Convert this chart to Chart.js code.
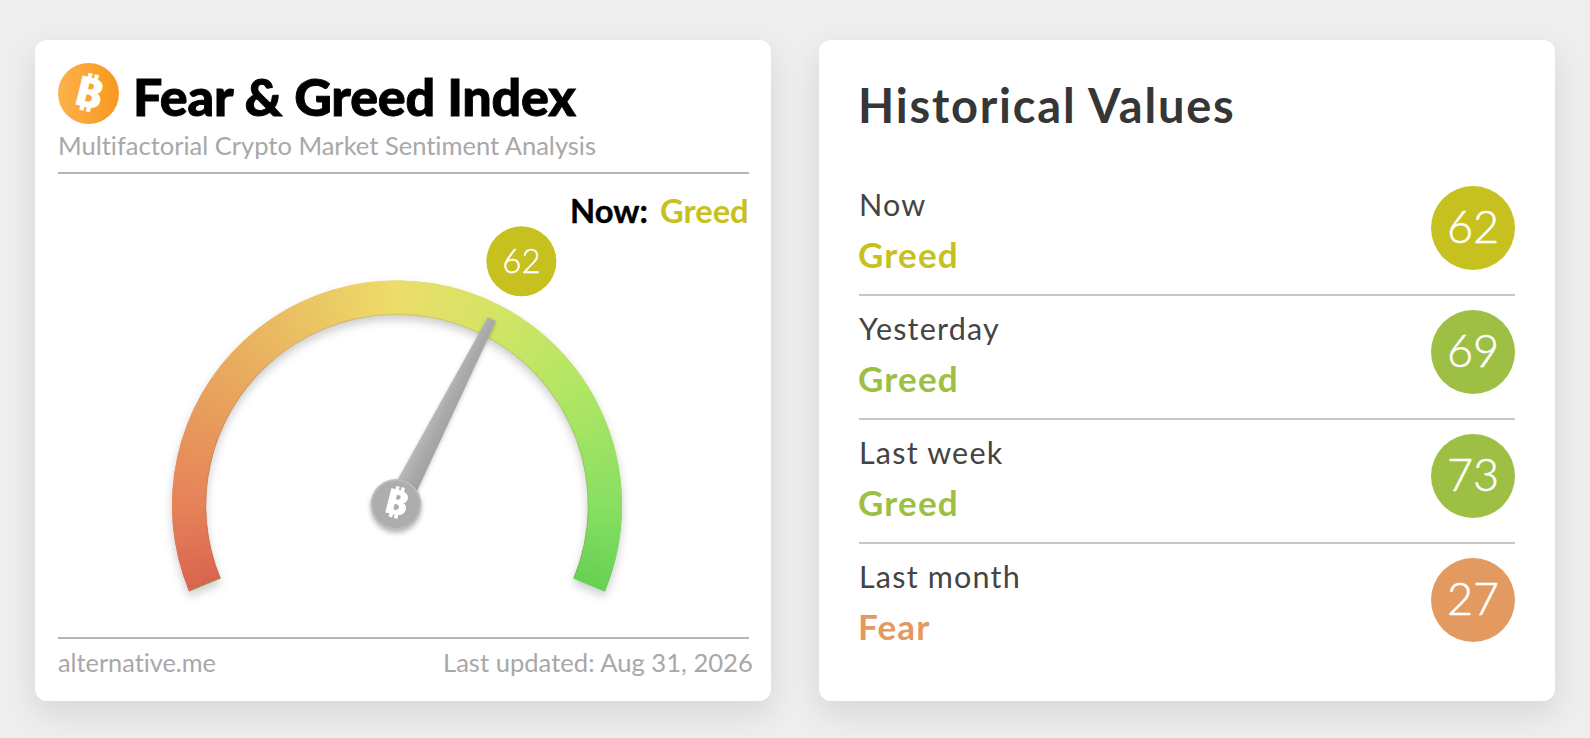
<!DOCTYPE html>
<html>
<head>
<meta charset="utf-8">
<title>Fear &amp; Greed Index</title>
<script src="https://cdn.jsdelivr.net/npm/chart.js@4/dist/chart.umd.min.js"></script>
<style>
  html, body { margin: 0; height: 100%; background: #eeeeee; overflow: hidden; }
  body { position: relative; width: 1590px; height: 738px; font-family: Lato, sans-serif; }
  .card { position: absolute; top: 40px; height: 661px; background: #fff; border-radius: 12px; box-shadow: 0 12px 32px rgba(0,0,0,.10); }
  #left { left: 35px; width: 736px; }
  #right { left: 819px; width: 736px; }
  .t { position: absolute; white-space: nowrap; line-height: 1; font-variant-ligatures: none; }
  .rule { position: absolute; height: 2px; }
  #logo { position: absolute; left: 58px; top: 63px; width: 61px; height: 61px; border-radius: 50%;
          background: linear-gradient(90deg, #fdb14d, #f8981f); color: #fff; text-align: center;
          font: bold 41px/61px "DejaVu Sans", "Noto Sans"; -webkit-text-stroke: .6px #fff; }
  #logo span { display: inline-block; transform: rotate(14deg) scaleX(1.2); }
  .badge { position: absolute; left: 1431px; width: 84px; height: 84px; border-radius: 50%; color: #fff;
           text-align: center; font: 300 45px/80px Lato, sans-serif; -webkit-text-stroke: .5px #fff; }
  #gauge { position: absolute; left: 97px; top: 200px; width: 600px; height: 440px; }
</style>
</head>
<body>
<div class="card" id="left"></div>
<div class="card" id="right"></div>

<div id="logo"><span>&#8383;</span></div>
<div class="t" style="left:133px;top:70px;font-size:52px;font-weight:900;color:#000;-webkit-text-stroke:.9px #000;letter-spacing:-.2px">Fear &amp; Greed Index</div>
<div class="t" style="left:58px;top:133px;font-size:25.5px;color:#a8a8a8">Multifactorial Crypto Market Sentiment Analysis</div>
<div class="rule" style="left:58px;top:172px;width:691px;background:#b5b5b5"></div>
<div class="t" style="left:570px;top:195px;font-size:32.7px;font-weight:700;color:#000;-webkit-text-stroke:.4px #000">Now:</div>
<div class="t" id="nowClass" style="left:660px;top:195px;font-size:32.7px;font-weight:700"></div>
<div class="rule" style="left:58px;top:637px;width:691px;background:#b5b5b5"></div>
<div class="t" style="left:58px;top:650px;font-size:25.3px;color:#a8a8a8">alternative.me</div>
<div class="t" style="left:443px;top:650px;font-size:25.6px;color:#a8a8a8">Last updated: Aug 31, 2026</div>

<div class="t" style="left:858px;top:82px;font-size:47px;font-weight:700;color:#363636;letter-spacing:1.8px">Historical Values</div>
<div id="rows"></div>

<div id="gauge"><canvas id="gaugeChart"></canvas></div>

<script>
// values
const periods = ['Now', 'Yesterday', 'Last week', 'Last month'];
const periodValues = [62, 69, 73, 27];
const periodClasses = ['Greed', 'Greed', 'Greed', 'Fear'];
const periodColors = ['#c7c120', '#9dc044', '#9dc044', '#e39a60'];

const gaugeMax = 100;
const gaugeStops = [0, 0.1, 0.3, 0.5, 0.62, 0.75, 0.9, 1];
const gaugeColors = ['#d9644f', '#e68259', '#e9b05f', '#ecdd69', '#d4e465', '#b2e664', '#88df62', '#66d154'];

const gaugeRotation = -112.5;
const gaugeSweep = 225;

// Right hand list
const rowsEl = document.getElementById('rows');
periods.forEach(function(label, i) {
    const y = 124 * i;
    rowsEl.insertAdjacentHTML('beforeend', `
        <div class="t" style="left:859px;top:${189 + y}px;font-size:30.5px;color:#444;letter-spacing:1.2px">${label}</div>
        <div class="t" style="left:858px;top:${237 + y}px;font-size:35px;font-weight:700;color:${periodColors[i]};letter-spacing:1.2px">${periodClasses[i]}</div>
        <div class="badge" style="top:${186 + y}px;background:${periodColors[i]}">${periodValues[i]}</div>
        ${i < periods.length - 1 ? `<div class="rule" style="left:859px;top:${294 + y}px;width:656px;background:#c8c8c8"></div>` : ''}
    `);
});
document.getElementById('nowClass').textContent = periodClasses[0];
document.getElementById('nowClass').style.color = periodColors[0];

// Conic gradient follows the ring from the red end to the green end
function gaugeGradient(context) {
    const chart = context.chart;
    const area = chart.chartArea;
    if (!area) return gaugeColors[0];
    const cx = (area.left + area.right) / 2;
    const cy = area.top + (area.right - area.left) / 2;
    const start = (gaugeRotation - 90) * Math.PI / 180;
    const grad = chart.ctx.createConicGradient(start, cx, cy);
    gaugeStops.forEach(function(s, i) {
        grad.addColorStop(s * gaugeSweep / 360, gaugeColors[i]);
    });
    return grad;
}

// Soft shadow under the ring, drawn once before the real slices
const ringShadow = {
    id: 'ringShadow',
    beforeDatasetsDraw(chart) {
        const ctx = chart.ctx;
        ctx.save();
        ctx.shadowColor = 'rgba(0,0,0,.20)';
        ctx.shadowBlur = 10;
        ctx.shadowOffsetY = 5;
        chart.getDatasetMeta(0).data.forEach(el => el.draw(ctx));
        ctx.restore();
    }
};

// Needle, hub and value bubble sit on the angle of the first slice
const needle = {
    id: 'needle',
    afterDatasetsDraw(chart) {
        const ctx = chart.ctx;
        const el = chart.getDatasetMeta(0).data[0];
        const last = chart.getDatasetMeta(0).data[1];
        const cx = el.x, cy = el.y, a = el.endAngle;

        // inner edge of the ring
        ctx.save();
        ctx.strokeStyle = 'rgba(90,70,20,.14)';
        ctx.lineWidth = 1.2;
        ctx.beginPath();
        ctx.arc(cx, cy, el.innerRadius, el.startAngle, last.endAngle);
        ctx.stroke();
        ctx.restore();

        // needle
        ctx.save();
        ctx.translate(cx, cy);
        ctx.rotate(a);
        ctx.shadowColor = 'rgba(0,0,0,.2)';
        ctx.shadowBlur = 4;
        ctx.shadowOffsetY = 2;
        const g = ctx.createLinearGradient(0, -12, 0, 12);
        g.addColorStop(0, '#bcbcbc');
        g.addColorStop(0.5, '#aaaaaa');
        g.addColorStop(1, '#a2a2a2');
        ctx.fillStyle = g;
        ctx.beginPath();
        ctx.moveTo(0, -12);
        ctx.lineTo(209, -4.5);
        ctx.lineTo(209, 4.5);
        ctx.lineTo(0, 12);
        ctx.closePath();
        ctx.fill();
        ctx.restore();

        // hub
        ctx.save();
        ctx.shadowColor = 'rgba(0,0,0,.28)';
        ctx.shadowBlur = 5;
        ctx.shadowOffsetY = 3;
        ctx.fillStyle = '#bcbcbc';
        ctx.beginPath();
        ctx.arc(cx - 1, cy - 1, 25.5, 0, Math.PI * 2);
        ctx.fill();
        ctx.restore();
        ctx.fillStyle = '#adadad';
        ctx.beginPath();
        ctx.arc(cx - 1, cy - 1, 23.5, 0, Math.PI * 2);
        ctx.fill();

        ctx.save();
        ctx.translate(cx - 1, cy - 1);
        ctx.rotate(14 * Math.PI / 180);
        ctx.scale(1.2, 1);
        ctx.fillStyle = '#fff';
        ctx.strokeStyle = '#fff';
        ctx.lineWidth = .6;
        ctx.font = 'bold 34px "DejaVu Sans", "Noto Sans"';
        ctx.textAlign = 'center';
        ctx.textBaseline = 'middle';
        ctx.fillText('\u20BF', 0, 1);
        ctx.strokeText('\u20BF', 0, 1);
        ctx.restore();

        // value bubble
        const bx = cx + Math.cos(a) * 274, by = cy + Math.sin(a) * 274;
        ctx.fillStyle = periodColors[0];
        ctx.beginPath();
        ctx.arc(bx, by, 35, 0, Math.PI * 2);
        ctx.fill();
        ctx.fillStyle = '#fff';
        ctx.strokeStyle = '#fff';
        ctx.lineWidth = .4;
        ctx.font = '300 33px Lato';
        ctx.textAlign = 'center';
        ctx.textBaseline = 'middle';
        ctx.fillText(String(periodValues[0]), bx, by + 1);
        ctx.strokeText(String(periodValues[0]), bx, by + 1);
    }
};

new Chart(document.getElementById('gaugeChart'), {
    type: 'doughnut',
    data: {
        labels: ['Index', 'Rest'],
        datasets: [{
            data: [periodValues[0], gaugeMax - periodValues[0]],
            backgroundColor: gaugeGradient,
            borderWidth: 0
        }]
    },
    options: {
        responsive: true,
        maintainAspectRatio: false,
        animation: false,
        rotation: gaugeRotation,
        circumference: gaugeSweep,
        cutout: '84.9%',
        layout: { padding: { left: 75, right: 75, top: 80, bottom: 48 } },
        plugins: { legend: { display: false }, tooltip: { enabled: false } }
    },
    plugins: [ringShadow, needle]
});
</script>
</body>
</html>
